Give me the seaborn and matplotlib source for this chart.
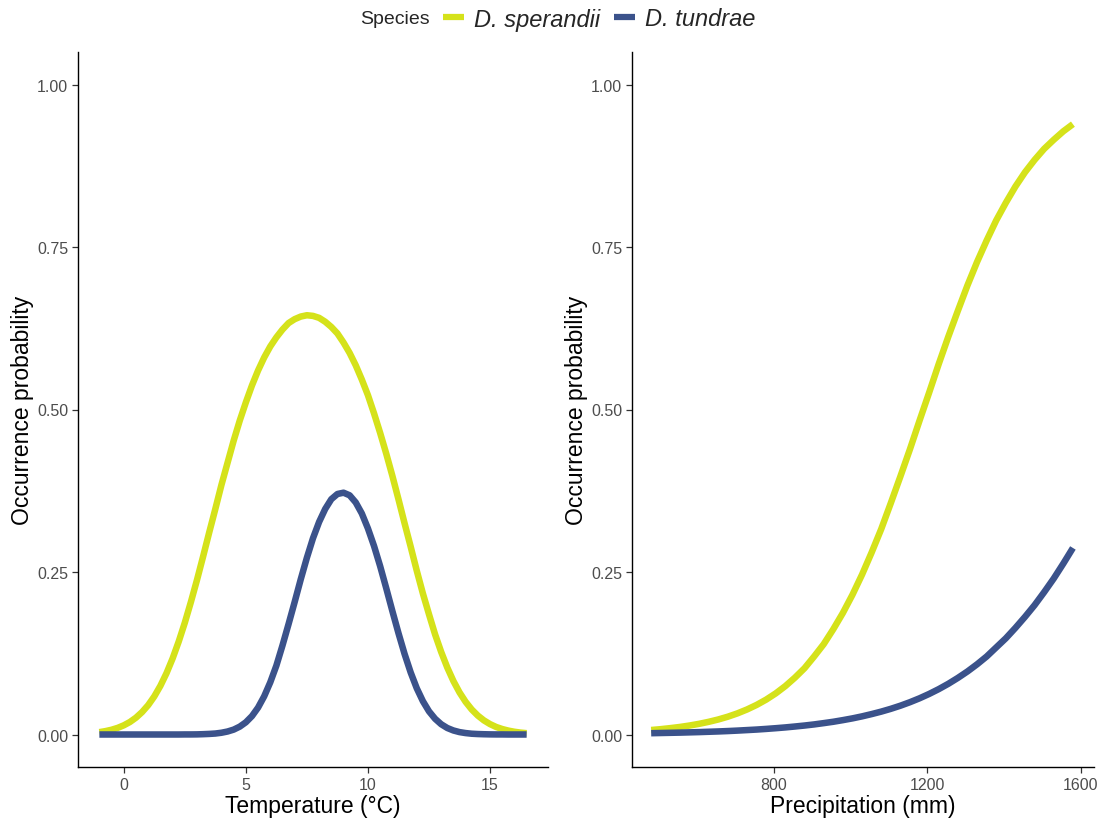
import numpy as np
import pandas as pd
import matplotlib
matplotlib.use('Agg')
import matplotlib.pyplot as plt
from matplotlib.lines import Line2D
from matplotlib.ticker import FormatStrFormatter
import seaborn as sns

# gatunki i kolory
species = ['D. sperandii', 'D. tundrae']
colors = ['#D5E21A', '#3B528B']

# temperatura (°C) - wartosci
temp = [-1.0, -0.75, -0.5, -0.25, 0.0, 0.25, 0.5, 0.75, 1.0, 1.25, 1.5, 1.75,
        2.0, 2.25, 2.5, 2.75, 3.0, 3.25, 3.5, 3.75, 4.0, 4.25, 4.5, 4.75,
        5.0, 5.25, 5.5, 5.75, 6.0, 6.25, 6.5, 6.75, 7.0, 7.25, 7.5, 7.75,
        8.0, 8.25, 8.5, 8.75, 9.0, 9.25, 9.5, 9.75, 10.0, 10.25, 10.5, 10.75,
        11.0, 11.25, 11.5, 11.75, 12.0, 12.25, 12.5, 12.75, 13.0, 13.25, 13.5, 13.75,
        14.0, 14.25, 14.5, 14.75, 15.0, 15.25, 15.5, 15.75, 16.0, 16.25, 16.5]
temp_sperandii = [0.0036, 0.0052, 0.0073, 0.0102, 0.0141, 0.0192, 0.0259, 0.0345,
                  0.0452, 0.0586, 0.0749, 0.0943, 0.117, 0.143, 0.172, 0.204,
                  0.238, 0.274, 0.311, 0.347, 0.384, 0.418, 0.452, 0.483,
                  0.511, 0.537, 0.560, 0.580, 0.597, 0.611, 0.623, 0.633,
                  0.639, 0.643, 0.645, 0.644, 0.641, 0.635, 0.627, 0.617,
                  0.603, 0.587, 0.568, 0.546, 0.522, 0.494, 0.464, 0.432,
                  0.398, 0.362, 0.325, 0.289, 0.252, 0.217, 0.185, 0.154,
                  0.127, 0.103, 0.0823, 0.0648, 0.0503, 0.0385, 0.0291, 0.0217,
                  0.0160, 0.0116, 0.0084, 0.0060, 0.0042, 0.0029, 0.0020]
temp_tundrae = [0.0, 0.0, 0.0, 0.0, 0.0, 0.0, 0.0, 0.0,
                0.0, 0.0, 0.0, 0.0, 0.0, 0.0, 0.0001, 0.0001,
                0.0002, 0.0005, 0.0009, 0.0015, 0.0027, 0.0046, 0.0075, 0.0121,
                0.0188, 0.0283, 0.0414, 0.0587, 0.0803, 0.106, 0.137, 0.170,
                0.204, 0.239, 0.272, 0.302, 0.327, 0.347, 0.362, 0.370,
                0.372, 0.368, 0.357, 0.340, 0.317, 0.290, 0.259, 0.225,
                0.190, 0.156, 0.124, 0.0955, 0.0711, 0.0513, 0.0357, 0.0242,
                0.0158, 0.0100, 0.0062, 0.0037, 0.0022, 0.0012, 0.0007, 0.0004,
                0.0002, 0.0001, 0.0001, 0.0, 0.0, 0.0, 0.0]

# opady (mm)
precip = [480, 505, 530, 555, 580, 605, 630, 655, 680, 705, 730, 755,
          780, 805, 830, 855, 880, 905, 930, 955, 980, 1005, 1030, 1055,
          1080, 1105, 1130, 1155, 1180, 1205, 1230, 1255, 1280, 1305, 1330, 1355,
          1380, 1405, 1430, 1455, 1480, 1505, 1530, 1555, 1580]
precip_sperandii = [0.0069, 0.0082, 0.0098, 0.0116, 0.0138, 0.0164, 0.0195, 0.0231,
                    0.0274, 0.0325, 0.0385, 0.0455, 0.0537, 0.0633, 0.0745, 0.0875,
                    0.102, 0.120, 0.139, 0.162, 0.187, 0.215, 0.246, 0.280,
                    0.316, 0.356, 0.397, 0.439, 0.483, 0.526, 0.570, 0.612,
                    0.652, 0.691, 0.727, 0.760, 0.791, 0.818, 0.843, 0.865,
                    0.884, 0.901, 0.915, 0.928, 0.939]
precip_tundrae = [0.0020, 0.0023, 0.0026, 0.0029, 0.0033, 0.0037, 0.0042, 0.0047,
                  0.0053, 0.0060, 0.0068, 0.0076, 0.0086, 0.0097, 0.0109, 0.0123,
                  0.0138, 0.0155, 0.0175, 0.0196, 0.0221, 0.0248, 0.0279, 0.0314,
                  0.0352, 0.0395, 0.0443, 0.0497, 0.0557, 0.0624, 0.0698, 0.0780,
                  0.0871, 0.0970, 0.108, 0.120, 0.134, 0.148, 0.164, 0.181,
                  0.199, 0.219, 0.240, 0.263, 0.287]

temp_df = pd.DataFrame({
    'x': temp + temp,
    'p': temp_sperandii + temp_tundrae,
    'species': [species[0]] * len(temp) + [species[1]] * len(temp),
})
precip_df = pd.DataFrame({
    'x': precip + precip,
    'p': precip_sperandii + precip_tundrae,
    'species': [species[0]] * len(precip) + [species[1]] * len(precip),
})

sns.set_theme(style='ticks')
plt.rcParams['font.family'] = ['Liberation Sans', 'DejaVu Sans']

W, H = 1112, 820
fig = plt.figure(figsize=(W / 100, H / 100), dpi=100)
ax1 = fig.add_axes([78 / W, 1 - 768 / H, (548 - 78) / W, (768 - 53) / H])
ax2 = fig.add_axes([632 / W, 1 - 768 / H, (1094 - 632) / W, (768 - 53) / H])

palette = dict(zip(species, colors))
lw = 4.7

for ax, df in ((ax1, temp_df), (ax2, precip_df)):
    sns.lineplot(data=df, x='x', y='p', hue='species', palette=palette,
                 linewidth=lw, legend=False, ax=ax)
    for line in ax.get_lines():
        line.set_solid_capstyle('butt')
        line.set_solid_joinstyle('round')

ax1.set_xlim(-1.875, 17.375)
ax1.set_xticks([0, 5, 10, 15])
ax1.set_xlabel('Temperature (°C)', fontsize=16.5, color='black', labelpad=2)

ax2.set_xlim(430, 1635)
ax2.set_xticks([800, 1200, 1600])
ax2.set_xlabel('Precipitation (mm)', fontsize=16.5, color='black', labelpad=2)

for ax in (ax1, ax2):
    ax.set_ylim(-0.05, 1.05)
    ax.set_yticks([0, 0.25, 0.5, 0.75, 1.0])
    ax.yaxis.set_major_formatter(FormatStrFormatter('%.2f'))
    ax.set_ylabel('Occurrence probability', fontsize=16.5, color='black', labelpad=2)
    sns.despine(ax=ax)
    for s in ('left', 'bottom'):
        ax.spines[s].set_linewidth(1.0)
        ax.spines[s].set_color('black')
    ax.tick_params(axis='both', labelsize=11.5, labelcolor='#4D4D4D',
                   color='#333333', length=4, width=0.9, pad=3)
    ax.set_facecolor('white')

# legenda u gory
fig.text(360 / W, 1 - 20 / H, 'Species', fontsize=14, va='center', ha='left')
handles = [Line2D([], [], color=c, linewidth=4.5, solid_capstyle='butt') for c in colors]
leg = fig.legend(handles, species, loc='center left',
                 bbox_to_anchor=(443 / W, 1 - 20 / H), ncol=2, frameon=False,
                 handlelength=0.9, handletextpad=0.4, columnspacing=0.6,
                 borderaxespad=0, borderpad=0,
                 prop={'size': 17, 'style': 'italic'})

fig.savefig('out.png', dpi=100, facecolor='white')
